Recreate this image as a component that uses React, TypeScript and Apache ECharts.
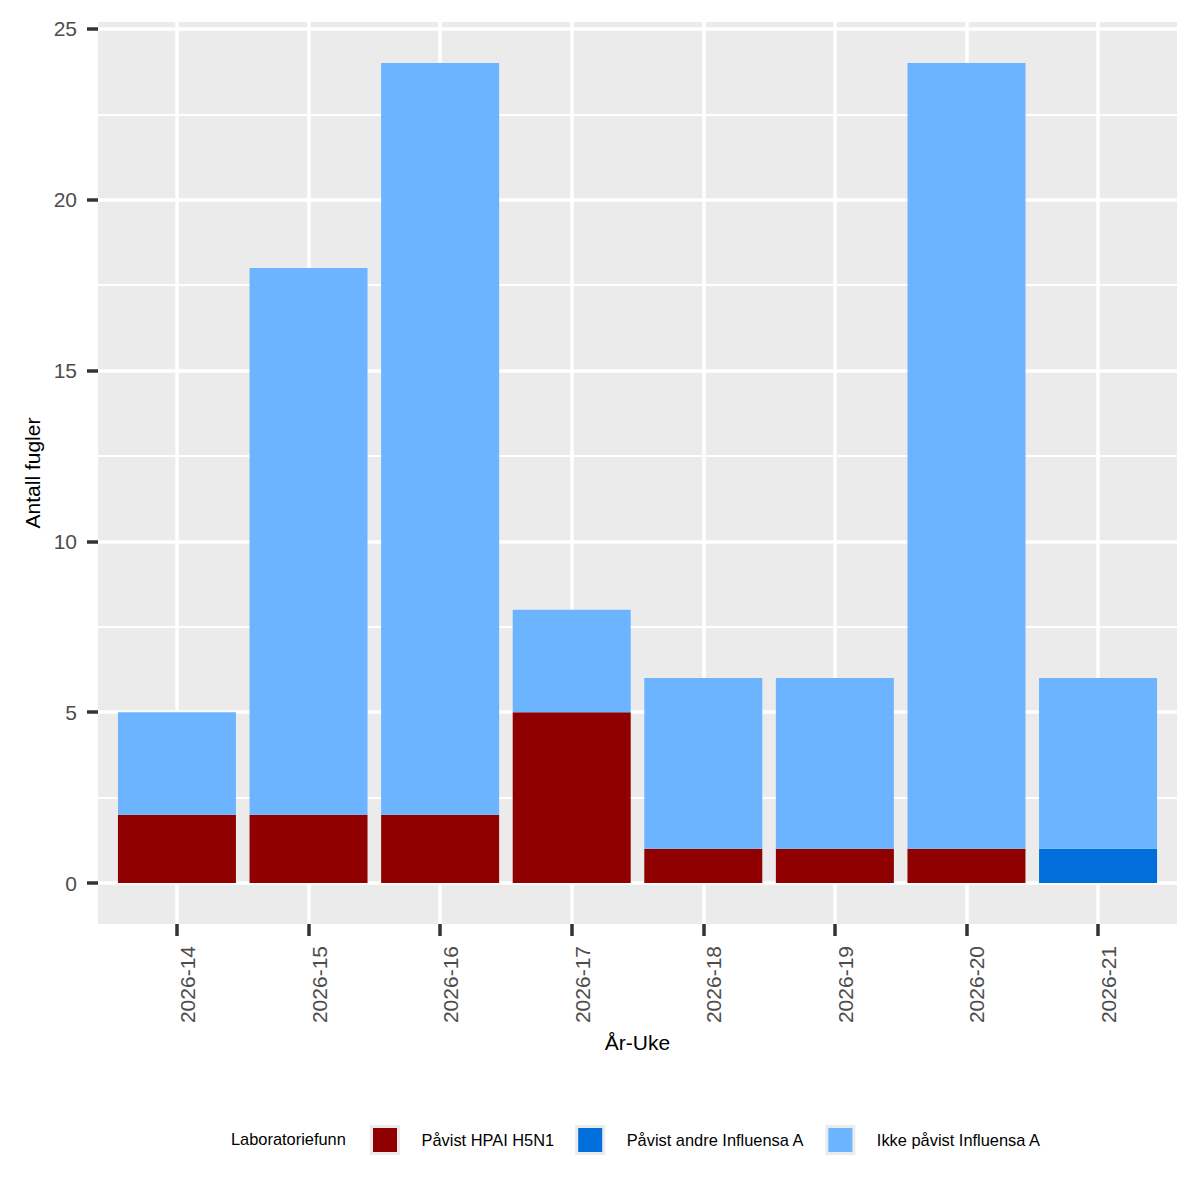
import React, { useEffect, useRef } from "react";
import * as echarts from "echarts";

const categories = ["2026-14", "2026-15", "2026-16", "2026-17", "2026-18", "2026-19", "2026-20", "2026-21"];
const seriesNames = ["Påvist HPAI H5N1", "Påvist andre Influensa A", "Ikke påvist Influensa A"];
const hpaiH5N1 = [2, 2, 2, 5, 1, 1, 1, 0];
const andreInfluensaA = [0, 0, 0, 0, 0, 0, 0, 1];
const ikkePavist = [3, 16, 22, 3, 5, 5, 23, 5];
const seriesColors = ["#900000", "#006EDB", "#6CB4FF"];
const yMajorTicks = [0, 5, 10, 15, 20, 25];
const yMinorTicks = [2.5, 7.5, 12.5, 17.5, 22.5];
const xPositions = categories.map((_, i) => i + 1);

const FONT = "'Liberation Sans', Arial, sans-serif";

export default function App() {
  const ref = useRef<HTMLDivElement>(null);
  useEffect(() => {
    if (!ref.current) return;
    const chart = echarts.init(ref.current, undefined, { renderer: "svg" });
    const values = [hpaiH5N1, andreInfluensaA, ikkePavist];
    const option: any = {
      animation: false,
      backgroundColor: "#FFFFFF",
      textStyle: { fontFamily: FONT },
      grid: {
        left: 98,
        right: 23,
        top: 22,
        bottom: 276,
        show: true,
        backgroundColor: "#EBEBEB",
        borderWidth: 0,
        containLabel: false,
      },
      xAxis: {
        type: "value",
        min: 0.4,
        max: 8.6,
        name: "År-Uke",
        nameLocation: "middle",
        nameGap: 108,
        nameTextStyle: { fontSize: 21, color: "#000000", fontFamily: FONT },
        axisLine: { show: false, onZero: false },
        axisTick: { show: true, length: 12, customValues: xPositions, lineStyle: { color: "#333333", width: 3.5 } },
        axisLabel: {
          customValues: xPositions,
          rotate: 90,
          margin: 22,
          verticalAlign: "top",
          fontSize: 21,
          color: "#4D4D4D",
          fontFamily: FONT,
          formatter: (v: number) => categories[Math.round(v) - 1] ?? "",
        },
        splitLine: { show: true, lineStyle: { color: "#FFFFFF", width: 3.5 } },
      },
      yAxis: [
        {
          type: "value",
          min: -1.2,
          max: 25.2,
          name: "Antall fugler",
          nameLocation: "middle",
          nameGap: 54,
          nameTextStyle: { fontSize: 21, color: "#000000", fontFamily: FONT },
          axisLine: { show: false, onZero: false },
          axisTick: { show: true, length: 11, customValues: yMajorTicks, lineStyle: { color: "#333333", width: 3.5 } },
          axisLabel: {
            customValues: yMajorTicks,
            margin: 21,
            fontSize: 21,
            color: "#4D4D4D",
            fontFamily: FONT,
            formatter: (v: number) => String(v),
          },
          splitLine: { show: true, lineStyle: { color: "#FFFFFF", width: 3.5 } },
          z: 1,
        },
        {
          type: "value",
          min: -1.2,
          max: 25.2,
          position: "left",
          axisLine: { show: false, onZero: false },
          axisTick: { show: false, customValues: yMinorTicks },
          axisLabel: { show: false, customValues: yMinorTicks },
          splitLine: { show: true, lineStyle: { color: "#FFFFFF", width: 1.8 } },
          z: 0,
        },
      ],
      legend: {
        show: true,
        left: 370,
        top: 1125,
        padding: 0,
        itemGap: 21,
        itemWidth: 27,
        itemHeight: 27,
        icon: "rect",
        itemStyle: { borderColor: "#EBEBEB", borderWidth: 3 },
        textStyle: { fontSize: 16.4, color: "#000000", fontFamily: FONT, padding: [0, 0, 0, 18] },
        data: seriesNames,
        selectedMode: false,
      },
      graphic: [
        {
          type: "text",
          left: 231,
          top: 1131,
          style: { text: "Laboratoriefunn", fontSize: 16.4, fill: "#000000", fontFamily: FONT },
        },
      ],
      series: seriesNames.map((name, s) => ({
        name,
        type: "bar",
        stack: "total",
        yAxisIndex: 0,
        barWidth: 118,
        itemStyle: { color: seriesColors[s] },
        dimensions: ["count", "week"],
        encode: { x: 1, y: 0 },
        data: values[s].map((v, i) => [v, xPositions[i]]),
      })),
    };
    chart.setOption(option);
    return () => chart.dispose();
  }, []);
  return (
    <div
      ref={ref}
      style={{ position: "absolute", left: 0, top: 0, width: 1200, height: 1200 }}
    />
  );
}
